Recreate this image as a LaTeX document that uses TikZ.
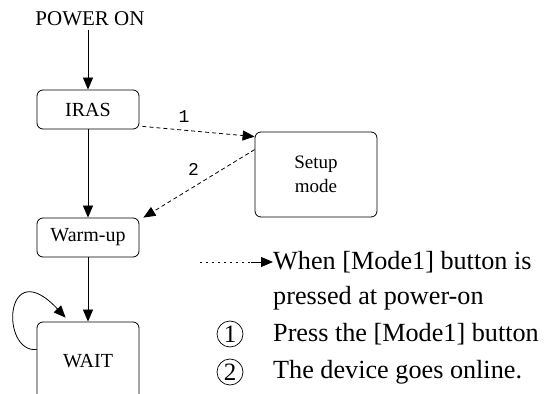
\documentclass[tikz,border=0pt]{standalone}
\usepackage{fontspec}
\setmainfont{Liberation Serif}
\setmonofont{Liberation Mono}
\usetikzlibrary{arrows.meta}

\begin{document}
\begin{tikzpicture}[x=1pt, y=1pt,
    state/.style={draw, rounded corners=6pt, line width=0.8pt, minimum width=102pt, minimum height=39pt, font=\fontsize{20}{22}\selectfont},
    flow/.style={line width=0.8pt, -{Triangle[length=12pt, width=10pt]}},
    modeflow/.style={flow, dash pattern=on 4pt off 3pt},
    num/.style={font=\ttfamily\fontsize{18}{18}\selectfont},
    legendtext/.style={font=\fontsize{26.2}{30}\selectfont, inner sep=0pt, anchor=west}]
    \useasboundingbox (0, 0) rectangle (545, 393);
    \clip (0, 0) rectangle (545, 393);

    % States
    \node[font=\fontsize{21}{23}\selectfont] (power) at (90, 374) {POWER ON};
    \node[state] (iras) at (88, 283.5) {IRAS};
    \node[state] (warm) at (88, 155.5) {Warm-up};
    \node[state, minimum height=78pt] (wait) at (88, 32) {WAIT};
    \node[state, minimum width=122pt, minimum height=85pt, align=center, font=\fontsize{19}{24}\selectfont] (setup) at (316, 218.5) {Setup\\mode};

    % Normal start-up
    \draw[flow] (power.south -| iras.north) -- (iras.north);
    \draw[flow] (iras) -- (warm);
    \draw[flow] (warm) -- (wait);
    \draw[flow] ([yshift=-28pt]wait.north west) .. controls ([shift={(-37, -31)}]wait.north west) and ([shift={(-32, 69)}]wait.north west) .. ([shift={(29, 4)}]wait.north west);

    % Setup mode
    \draw[modeflow] ([shift={(3, 3)}]iras.south east) -- node[num, pos=0.37, above=4pt] {1} ([yshift=-5pt]setup.north west);
    \draw[modeflow] ([yshift=-18pt]setup.north west) -- node[num, pos=0.55, above=8pt] {2} ([xshift=4pt]warm.north east);

    % Legend
    \node[legendtext] (when1) at (273, 131) {When [Mode1] button is};
    \node[legendtext] (when2) at (273, 95) {pressed at power-on};
    \foreach \n/\y/\txt in {1/59/Press the [Mode1] button, 2/21/The device goes online.} {
        \node[legendtext] (item\n) at (273, \y) {\txt};
        \node[draw, circle, line width=0.7pt, inner sep=0pt, minimum size=26pt, font=\fontsize{25}{25}\selectfont] (mark\n) at (230, \y) {\n};
    }
    \coordinate (legstart) at (200, 131);
    \draw[line width=0.8pt, dash pattern=on 2pt off 4pt] (legstart) -- ([xshift=-22pt]when1.west);
    \draw[flow] ([xshift=-22pt]when1.west) -- (when1.west);
\end{tikzpicture}
\end{document}
